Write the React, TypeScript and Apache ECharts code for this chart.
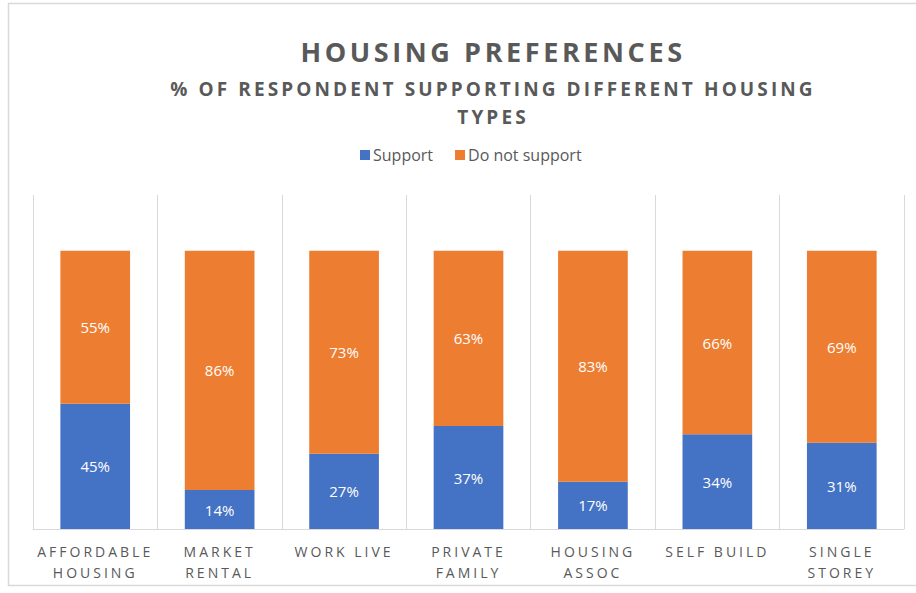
import React, { useEffect, useRef } from "react";
import * as echarts from "echarts";

const categories = [
  "AFFORDABLE\nHOUSING",
  "MARKET\nRENTAL",
  "WORK LIVE",
  "PRIVATE\nFAMILY",
  "HOUSING\nASSOC",
  "SELF BUILD",
  "SINGLE\nSTOREY",
];
const support = [45, 14, 27, 37, 17, 34, 31];
const doNotSupport = [55, 86, 73, 63, 83, 66, 69];
const seriesNames = ["Support", "Do not support"];
const titleText = "HOUSING PREFERENCES";
const subtitleText = "% OF RESPONDENT SUPPORTING DIFFERENT HOUSING\nTYPES";

const FONT = "'Open Sans', sans-serif";
const FONT_TITLE = "'Open Sans', Lato, sans-serif";
const FONT_SUB = "'Open Sans', Inter, sans-serif";
const FONT_AXIS = "'Open Sans', Roboto, sans-serif";
const GRAY = "#595959";

const css = `
#root svg text[style*="Lato"] { letter-spacing: 3.6px; }
#root svg text[style*="Inter"] { letter-spacing: 3.1px; }
#root svg text[style*="Roboto"] { letter-spacing: 3px; }
`;

export default function App() {
  const ref = useRef<HTMLDivElement>(null);
  useEffect(() => {
    document.body.style.margin = "0";
    const chart = echarts.init(ref.current!, null, { renderer: "svg" });
    const labelStyle = {
      show: true,
      position: "inside",
      color: "#ffffff",
      fontSize: 15,
      fontFamily: FONT,
      formatter: "{c}%",
    };
    chart.setOption({
      animation: false,
      backgroundColor: "#ffffff",
      textStyle: { fontFamily: FONT },
      graphic: [
        {
          type: "rect",
          shape: { x: 8.5, y: 3.5, width: 940, height: 582 },
          style: { fill: "none", stroke: "#D9D9D9", lineWidth: 1.5 },
          silent: true,
        },
        {
          type: "text",
          x: 493,
          y: 38,
          style: {
            text: titleText,
            fill: GRAY,
            fontSize: 27,
            fontWeight: "bold",
            fontFamily: FONT_TITLE,
            align: "center",
            verticalAlign: "top",
          },
        },
        {
          type: "text",
          x: 493,
          y: 75,
          style: {
            text: subtitleText,
            fill: GRAY,
            fontSize: 19,
            fontWeight: "bold",
            fontFamily: FONT_SUB,
            align: "center",
            verticalAlign: "top",
            lineHeight: 28,
          },
        },
      ],
      legend: {
        data: seriesNames,
        left: 355,
        top: 142,
        itemWidth: 10,
        itemHeight: 10,
        itemGap: 22,
        icon: "rect",
        textStyle: { color: GRAY, fontSize: 16, fontFamily: FONT, padding: [0, 0, 0, -2] },
      },
      grid: { left: 33, right: 12, top: 195, bottom: 64, containLabel: false },
      xAxis: {
        type: "category",
        data: categories,
        axisLine: { show: true, lineStyle: { color: "#D9D9D9", width: 1 } },
        axisTick: { show: false },
        splitLine: { show: true, lineStyle: { color: "#D9D9D9", width: 1 } },
        axisLabel: {
          color: GRAY,
          fontSize: 14,
          fontFamily: FONT_AXIS,
          lineHeight: 21,
          margin: 12,
          interval: 0,
        },
      },
      yAxis: {
        type: "value",
        min: 0,
        max: 120,
        interval: 20,
        show: false,
        splitLine: { show: false },
      },
      series: [
        {
          name: seriesNames[0],
          type: "bar",
          stack: "total",
          data: support,
          barWidth: "56%",
          itemStyle: { color: "#4472C4" },
          label: labelStyle,
        },
        {
          name: seriesNames[1],
          type: "bar",
          stack: "total",
          data: doNotSupport,
          barWidth: "56%",
          itemStyle: { color: "#ED7D31" },
          label: labelStyle,
        },
      ],
    });
    return () => chart.dispose();
  }, []);
  return (
    <>
      <style>{css}</style>
      <div ref={ref} style={{ width: 916, height: 593 }} />
    </>
  );
}
